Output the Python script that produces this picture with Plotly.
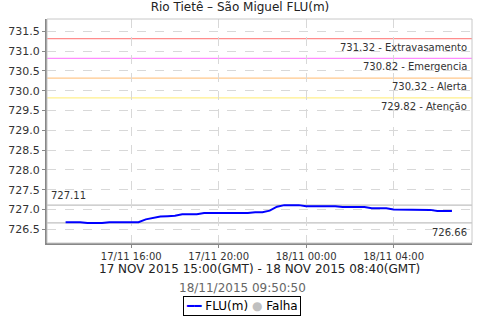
import plotly.graph_objects as go
import pandas as pd

# ---- data ----
times = pd.date_range("2015-11-17 13:00", "2015-11-18 06:40", freq="20min")
levels = [
    726.68, 726.68, 726.68, 726.66, 726.66, 726.66,   # 13:00-14:40
    726.68, 726.68, 726.68, 726.67, 726.68, 726.75,   # 15:00-16:40
    726.79, 726.82, 726.83, 726.84, 726.88, 726.88,   # 17:00-18:40
    726.88, 726.91, 726.91, 726.91, 726.91, 726.91,   # 19:00-20:40
    726.91, 726.91, 726.93, 726.93, 726.97, 727.07,   # 21:00-22:40
    727.11, 727.11, 727.11, 727.08, 727.08, 727.08,   # 23:00-00:40
    727.08, 727.08, 727.06, 727.06, 727.06, 727.06,   # 01:00-02:40
    727.03, 727.03, 727.03, 727.00, 727.00, 727.00,   # 03:00-04:40
    726.99, 726.99, 726.99, 726.96, 726.96, 726.96,   # 05:00-06:40
]
levels = levels[:len(times)]

threshold_values = [731.32, 730.82, 730.32, 729.82]
threshold_names = ["Extravasamento", "Emergencia", "Alerta", "Atenção"]
threshold_colors = ["#ff8c8c", "#ff8cff", "#ffc88c", "#fff08c"]

max_value = 727.11
min_value = 726.66

x_ticks = ["2015-11-17 16:00", "2015-11-17 20:00", "2015-11-18 00:00", "2015-11-18 04:00"]
x_tick_labels = ["17/11 16:00", "17/11 20:00", "18/11 00:00", "18/11 04:00"]
y_ticks = [726.5 + 0.5 * i for i in range(11)]

title = "Rio Tietê – São Miguel FLU(m)"
x_title = "17 NOV 2015 15:00(GMT) - 18 NOV 2015 08:40(GMT)"
subtitle = "18/11/2015 09:50:50"
legend_names = ["FLU(m)", "Falha"]
legend_colors = ["#0000ff", "#c0c0c0"]

FONT = "DejaVu Sans"

fig = go.Figure()

fig.add_trace(go.Scatter(x=times, y=levels, mode="lines", name=legend_names[0],
                         line=dict(color=legend_colors[0], width=2), showlegend=False))
fig.add_trace(go.Scatter(x=[None], y=[None], mode="markers", name=legend_names[1],
                         marker=dict(color=legend_colors[1], size=9), showlegend=False))

shapes = []
annotations = []
for v, n, c in zip(threshold_values, threshold_names, threshold_colors):
    shapes.append(dict(type="line", xref="paper", yref="y", x0=0, x1=1, y0=v, y1=v,
                       line=dict(color=c, width=1.3), layer="below"))
    annotations.append(dict(xref="paper", yref="y", x=1, y=v, xanchor="right", yanchor="top",
                            xshift=-3, yshift=-1, showarrow=False,
                            text=f"{v:.2f} - {n}",
                            font=dict(family=FONT, size=10, color="#333333")))

for v in (max_value, min_value):
    shapes.append(dict(type="line", xref="paper", yref="y", x0=0, x1=1, y0=v, y1=v,
                       line=dict(color="#c0c0c0", width=1.3), layer="below"))
annotations.append(dict(xref="paper", yref="y", x=0, y=max_value, xanchor="left", yanchor="bottom",
                        xshift=2, yshift=2, showarrow=False, text=f"{max_value:.2f}",
                        font=dict(family=FONT, size=10, color="#333333")))
annotations.append(dict(xref="paper", yref="y", x=1, y=min_value, xanchor="right", yanchor="top",
                        xshift=-3, yshift=-2, showarrow=False, text=f"{min_value:.2f}",
                        font=dict(family=FONT, size=10, color="#333333")))

# border box
shapes.append(dict(type="rect", xref="paper", yref="paper", x0=0, x1=1, y0=0, y1=1,
                   line=dict(color="#c8c8c8", width=1)))

cx = (240 - 43) / 429.0
annotations.append(dict(xref="paper", yref="paper", x=0.5, y=0, yshift=-17, xanchor="center",
                        yanchor="top", showarrow=False, text=x_title,
                        font=dict(family=FONT, size=12, color="#222222")))
annotations.append(dict(xref="paper", yref="paper", x=cx, y=0, yshift=-36, xanchor="center",
                        yanchor="top", showarrow=False, text=subtitle,
                        font=dict(family=FONT, size=12, color="#666666")))
# compact legend box
legend_text = (f'<span style="color:{legend_colors[0]}">━━</span> {legend_names[0]} '
               f'<span style="color:{legend_colors[1]}">●</span> {legend_names[1]}')
annotations.append(dict(xref="paper", yref="paper", x=cx, y=0, yshift=-53, xanchor="center",
                        yanchor="top", showarrow=False, text=legend_text,
                        bordercolor="#000000", borderwidth=1, borderpad=2, bgcolor="white",
                        font=dict(family=FONT, size=12, color="#000000")))

fig.update_layout(
    width=480, height=320,
    margin=dict(l=43, r=8, t=19, b=77),
    paper_bgcolor="white", plot_bgcolor="white",
    font=dict(family=FONT, size=11, color="#333333"),
    title=dict(text=title, x=0.5, xref="container", xanchor="center",
               y=1, yref="container", yanchor="top", pad=dict(t=3),
               font=dict(family=FONT, size=12, color="#222222")),
    showlegend=False,
    shapes=shapes, annotations=annotations,
    xaxis=dict(type="date", range=["2015-11-17 12:09", "2015-11-18 07:35"],
               tickvals=x_ticks, ticktext=x_tick_labels,
               tickfont=dict(family=FONT, size=10, color="#333333"),
               showgrid=True, gridcolor="#d8d8d8", griddash="dash", gridwidth=1,
               showline=True, linecolor="#888888", linewidth=2,
               ticks="outside", ticklen=3, tickcolor="#888888", zeroline=False),
    yaxis=dict(range=[726.153, 731.814], tickvals=y_ticks,
               ticktext=[f"{v:.1f}" for v in y_ticks],
               tickfont=dict(family=FONT, size=11, color="#333333"),
               showgrid=True, gridcolor="#d8d8d8", griddash="dash", gridwidth=1,
               showline=True, linecolor="#888888", linewidth=2,
               ticks="outside", ticklen=3, tickcolor="#888888", zeroline=False),
)

fig.write_html("out.html")
